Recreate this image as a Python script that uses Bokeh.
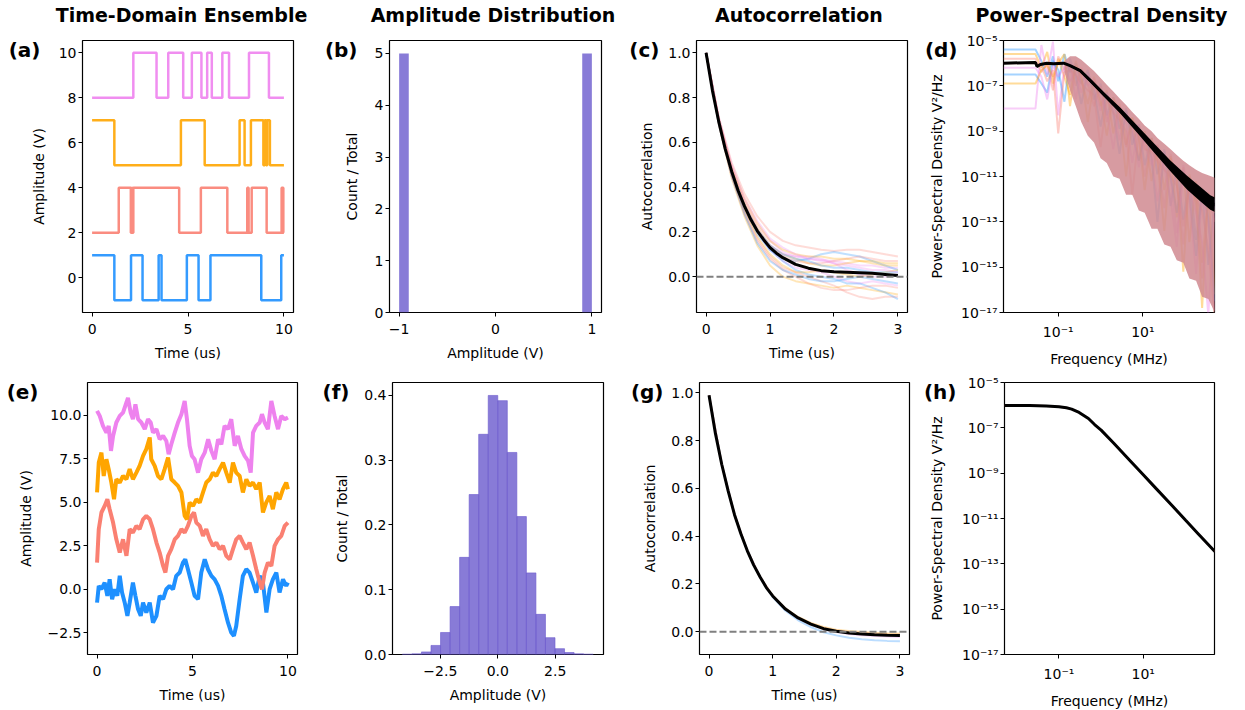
import numpy as np
from bokeh.plotting import figure
from bokeh.layouts import column, row
from bokeh.models import (Range1d, FixedTicker, CustomJSTickFormatter, Span, LinearAxis,
                          LinearScale)
from bokeh.embed import file_html
from bokeh.resources import INLINE

FONT = "DejaVu Sans"
BLUE = "#1E90FF"; SALMON = "#FA8072"; ORANGE = "#FFA500"; VIOLET = "#EE82EE"; SLATE = "#6A5ACD"

# ---------------- (a) telegraph ensemble: switch times ----------------
blue_sw = [1.16, 2.03, 2.63, 3.47, 3.62, 4.94, 5.55, 6.17, 8.82, 9.86]
salmon_sw = [1.39, 2.02, 2.07, 2.10, 2.15, 4.54, 5.67, 7.05, 8.09, 8.16, 8.32, 9.10, 9.88, 9.97]
orange_sw = [1.16, 4.63, 5.87, 7.69, 7.95, 8.28, 8.93, 9.00, 9.07, 9.13, 9.27]
violet_sw = [2.15, 3.36, 3.97, 4.75, 5.20, 5.70, 6.00, 6.24, 6.79, 7.14, 8.18, 9.22]
tele_levels = {"blue": (-1, 1, True), "salmon": (2, 4, False), "orange": (5, 7, True), "violet": (8, 10, False)}

# ---------------- (b) amplitude histogram ----------------
b_edges = [-1.0, -0.9, -0.8, -0.7, -0.6, -0.5, -0.4, -0.3, -0.2, -0.1, 0.0, 0.1, 0.2, 0.3, 0.4, 0.5, 0.6, 0.7, 0.8, 0.9, 1.0]
b_heights = [5, 0, 0, 0, 0, 0, 0, 0, 0, 0, 0, 0, 0, 0, 0, 0, 0, 0, 0, 5]

# ---------------- (c) autocorrelation, telegraph ----------------
t_grid = [0.0, 0.2, 0.4, 0.6, 0.8, 1.0, 1.2, 1.4, 1.6, 1.8, 2.0, 2.2, 2.4, 2.6, 2.8, 3.0]
c_lines = [
    [1.0, 0.71, 0.51, 0.37, 0.27, 0.20, 0.16, 0.14, 0.13, 0.12, 0.115, 0.12, 0.12, 0.11, 0.10, 0.09],
    [1.0, 0.68, 0.44, 0.27, 0.14, 0.05, 0.00, -0.02, -0.03, -0.04, -0.05, -0.04, -0.05, -0.06, -0.07, -0.08],
    [1.0, 0.70, 0.49, 0.34, 0.23, 0.16, 0.11, 0.09, 0.08, 0.075, 0.07, 0.06, 0.05, 0.05, 0.04, 0.04],
    [1.0, 0.69, 0.46, 0.30, 0.19, 0.12, 0.08, 0.07, 0.08, 0.10, 0.11, 0.10, 0.09, 0.07, 0.05, 0.03],
    [1.0, 0.68, 0.45, 0.29, 0.17, 0.09, 0.04, 0.02, 0.00, -0.02, -0.04, -0.07, -0.09, -0.10, -0.09, -0.09],
    [1.0, 0.70, 0.48, 0.33, 0.22, 0.14, 0.10, 0.08, 0.06, 0.05, 0.05, 0.06, 0.07, 0.07, 0.06, 0.06],
    [1.0, 0.69, 0.46, 0.31, 0.20, 0.12, 0.07, 0.04, 0.03, 0.02, 0.00, -0.02, -0.03, -0.02, -0.03, -0.04],
    [1.0, 0.69, 0.47, 0.31, 0.20, 0.12, 0.07, 0.03, 0.01, 0.00, -0.01, -0.03, -0.03, -0.05, -0.07, -0.10],
    [1.0, 0.70, 0.48, 0.32, 0.21, 0.13, 0.09, 0.07, 0.06, 0.06, 0.07, 0.08, 0.09, 0.08, 0.07, 0.07],
    [1.0, 0.69, 0.46, 0.30, 0.18, 0.10, 0.05, 0.02, 0.02, 0.03, 0.02, 0.01, 0.00, 0.01, 0.02, 0.03],
    [1.0, 0.70, 0.47, 0.32, 0.21, 0.14, 0.10, 0.09, 0.09, 0.08, 0.06, 0.03, 0.01, 0.00, 0.00, 0.01],
    [1.0, 0.69, 0.47, 0.32, 0.21, 0.14, 0.10, 0.08, 0.07, 0.05, 0.04, 0.04, 0.03, 0.02, 0.02, 0.02],
    [1.0, 0.69, 0.45, 0.28, 0.16, 0.08, 0.03, 0.00, -0.03, -0.05, -0.06, -0.06, -0.05, -0.04, -0.04, -0.05],
    [1.0, 0.70, 0.49, 0.35, 0.24, 0.16, 0.12, 0.10, 0.09, 0.09, 0.08, 0.08, 0.07, 0.06, 0.05, 0.05],
    [1.0, 0.71, 0.50, 0.35, 0.25, 0.17, 0.13, 0.10, 0.08, 0.07, 0.06, 0.05, 0.04, 0.03, 0.03, 0.02],
    [1.0, 0.68, 0.45, 0.28, 0.15, 0.07, 0.03, 0.01, -0.01, -0.02, -0.02, -0.01, 0.00, -0.01, -0.02, -0.03],
]
c_t_black = [0.0, 0.1, 0.2, 0.3, 0.4, 0.5, 0.6, 0.7, 0.8, 0.9, 1.0, 1.1, 1.2, 1.4, 1.6, 1.8, 2.0, 2.2, 2.4, 2.6, 2.8, 3.0]
c_black = [1.0, 0.83, 0.69, 0.57, 0.47, 0.385, 0.315, 0.255, 0.205, 0.165, 0.13, 0.105, 0.085, 0.055, 0.038, 0.027, 0.022, 0.02, 0.018, 0.015, 0.01, 0.005]

# ---------------- (d) PSD, telegraph (log10 of V^2/Hz) ----------------
f_ind = [0.0051, 0.029, 0.04, 0.055, 0.075, 0.1, 0.14, 0.19, 0.26, 0.35, 0.5, 0.7, 1.0, 1.4, 2.0, 2.8, 4.0, 5.6, 8.0, 11, 16, 22, 32, 45, 63, 90, 125, 180, 250, 350, 500]
d_lines_log = [
    [-5.4, -5.4, -5.9, -6.6, -5.7, -6.8, -5.6, -6.4, -6.0, -6.9, -6.3, -7.6, -6.9, -8.3, -7.5, -8.9, -8.0, -9.6, -8.7, -10.5, -9.3, -10.9, -9.8, -12.3, -10.6, -12.9, -11.0, -13.8, -11.6, -14.9, -12.0],
    [-5.6, -5.6, -6.2, -5.5, -6.9, -5.8, -6.6, -7.4, -5.9, -6.7, -7.8, -6.6, -7.9, -7.2, -9.1, -7.8, -9.6, -8.4, -10.3, -9.0, -11.2, -9.6, -11.6, -10.1, -12.8, -10.6, -13.9, -11.2, -14.8, -11.7, -16.2],
    [-8.0, -8.0, -5.2, -6.5, -5.05, -8.3, -6.1, -6.8, -6.4, -7.3, -6.5, -7.0, -8.1, -7.3, -8.0, -9.4, -8.2, -8.8, -10.6, -9.2, -10.0, -12.1, -10.0, -11.1, -13.5, -11.0, -12.0, -15.3, -11.8, -13.0, -16.9],
    [-5.8, -5.8, -6.4, -6.0, -7.2, -5.7, -6.3, -6.0, -7.0, -6.2, -6.9, -7.9, -7.0, -8.6, -7.6, -8.4, -9.7, -8.5, -9.2, -11.0, -9.3, -10.2, -12.4, -10.0, -11.3, -14.0, -11.0, -12.2, -15.5, -11.9, -13.0],
    [-6.5, -6.5, -6.9, -7.3, -5.9, -6.3, -7.7, -5.8, -6.6, -7.8, -6.4, -7.2, -8.8, -7.3, -8.2, -10.0, -8.1, -9.1, -10.3, -9.1, -10.2, -13.0, -9.9, -11.0, -12.6, -10.7, -11.8, -14.5, -11.6, -12.8, -16.5],
    [-6.9, -6.9, -6.3, -6.1, -6.6, -6.0, -5.6, -7.9, -6.1, -6.5, -8.6, -6.8, -7.6, -9.2, -7.5, -8.2, -11.0, -8.4, -9.3, -11.6, -9.3, -10.3, -13.4, -10.2, -11.0, -15.2, -10.9, -12.0, -16.8, -11.8, -12.6],
    [-6.2, -6.2, -6.6, -7.6, -6.1, -6.6, -6.2, -6.0, -7.6, -6.3, -7.0, -6.7, -7.5, -8.1, -9.8, -7.9, -8.6, -10.4, -8.7, -9.6, -10.5, -9.6, -10.6, -12.0, -14.1, -10.5, -11.6, -12.6, -13.9, -17.1, -12.2],
    [-6.0, -6.0, -6.1, -6.8, -6.3, -9.1, -6.4, -6.3, -6.5, -6.9, -7.2, -7.4, -9.7, -7.6, -8.2, -8.5, -9.0, -11.8, -9.0, -9.8, -9.9, -10.3, -10.7, -11.0, -11.4, -13.2, -11.5, -12.0, -12.5, -14.2, -17.3],
]
f_band = [0.14, 0.19, 0.26, 0.35, 0.5, 0.7, 1.0, 1.4, 2.0, 2.8, 4.0, 5.6, 8.0, 11, 16, 22, 32, 45, 63, 90, 125, 180, 250, 350, 500]
band_hi_log = [-5.9, -5.7, -5.7, -5.85, -6.1, -6.35, -6.65, -6.95, -7.25, -7.55, -7.85, -8.15, -8.45, -8.75, -9.0, -9.3, -9.55, -9.8, -10.05, -10.3, -10.5, -10.7, -10.85, -10.95, -11.05]
band_lo_log = [-6.4, -7.2, -7.9, -8.6, -9.2, -9.5, -10.2, -10.4, -11.0, -11.1, -11.8, -11.8, -12.5, -12.6, -13.3, -13.3, -14.0, -14.1, -14.7, -14.8, -15.5, -15.6, -16.3, -16.4, -17.0]
f_black = [0.0051, 0.029, 0.0316, 0.038, 0.054, 0.077, 0.134, 0.19, 0.33, 0.575, 1.17, 2.95, 7.3, 17.9, 44.5, 110, 229, 390, 520]
d_black_log = [-6.0, -5.97, -6.15, -6.06, -6.0, -6.03, -6.0, -6.11, -6.33, -6.77, -7.36, -8.10, -8.91, -9.72, -10.53, -11.27, -11.78, -12.15, -12.26]
d_black_hi_log = [-5.97, -5.94, -6.1, -6.02, -5.97, -5.99, -5.97, -6.07, -6.27, -6.69, -7.26, -7.97, -8.75, -9.52, -10.29, -10.97, -11.46, -11.83, -11.94]
d_black_lo_log = [-6.03, -6.0, -6.2, -6.1, -6.03, -6.07, -6.03, -6.15, -6.39, -6.85, -7.46, -8.23, -9.07, -9.92, -10.77, -11.57, -12.1, -12.47, -12.58]

# ---------------- (e) Gaussian (OU) ensemble ----------------
e_blue_t = [0.0, 0.09, 0.23, 0.4, 0.54, 0.66, 0.79, 0.92, 1.06, 1.19, 1.31, 1.45, 1.59, 1.71, 1.88, 2.01, 2.15, 2.29, 2.41, 2.58, 2.76, 2.93, 3.11, 3.28, 3.46, 3.63, 3.80, 3.98, 4.15, 4.33, 4.5, 4.62, 4.76, 4.94, 5.11, 5.29, 5.46, 5.64, 5.81, 5.99, 6.16, 6.34, 6.51, 6.68, 6.86, 7.03, 7.17, 7.29, 7.47, 7.64, 7.82, 7.99, 8.17, 8.34, 8.52, 8.69, 8.87, 9.04, 9.21, 9.39, 9.56, 9.74, 9.91, 10.0]
e_blue_v = [-0.77, 0.19, 0.0, 0.38, -0.38, 0.57, -0.57, 0.0, -0.38, 0.77, -0.19, -0.77, -1.53, -0.77, 0.38, -0.38, -1.15, -1.53, -0.77, -1.34, -0.77, -1.92, -1.53, -0.38, -0.57, 0.0, 0.19, 0.0, 0.77, 0.96, 1.53, 1.72, 1.15, 0.38, -0.38, -0.57, 0.96, 1.72, 1.15, 0.77, 0.57, 0.19, -0.38, -1.15, -1.92, -2.49, -2.68, -2.11, -0.57, 0.77, 1.15, 0.96, 0.38, -0.19, 0.77, 0.38, -1.34, 0.0, 0.57, 0.96, -0.19, 0.57, 0.19, 0.38]
e_salmon_t = [0.0, 0.09, 0.23, 0.4, 0.54, 0.66, 0.84, 1.01, 1.19, 1.36, 1.54, 1.71, 1.88, 2.06, 2.23, 2.41, 2.58, 2.76, 2.93, 3.11, 3.28, 3.46, 3.58, 3.72, 3.89, 4.07, 4.24, 4.42, 4.59, 4.76, 4.94, 5.08, 5.2, 5.38, 5.55, 5.72, 5.9, 6.07, 6.25, 6.42, 6.6, 6.77, 6.95, 7.12, 7.29, 7.47, 7.64, 7.82, 7.99, 8.17, 8.34, 8.52, 8.64, 8.78, 8.95, 9.13, 9.3, 9.48, 9.65, 9.83, 10.0]
e_salmon_v = [1.53, 3.45, 4.41, 4.79, 5.17, 4.6, 3.83, 2.87, 2.11, 2.87, 1.92, 3.45, 3.26, 3.64, 3.45, 4.02, 4.21, 4.02, 3.45, 2.68, 2.11, 1.34, 0.96, 1.92, 2.3, 2.87, 3.07, 3.45, 3.26, 3.64, 4.21, 4.41, 3.83, 3.64, 3.07, 3.45, 2.87, 2.49, 2.68, 2.3, 2.49, 1.92, 1.72, 2.3, 2.87, 3.07, 2.68, 2.3, 2.68, 1.92, 1.15, 0.38, 0.0, 0.96, 1.53, 1.34, 2.49, 2.87, 3.07, 3.64, 3.83]
e_orange_t = [0.0, 0.09, 0.23, 0.35, 0.49, 0.61, 0.75, 0.89, 1.01, 1.19, 1.36, 1.54, 1.71, 1.88, 2.06, 2.23, 2.41, 2.58, 2.76, 2.84, 3.02, 3.19, 3.37, 3.54, 3.72, 3.89, 4.07, 4.24, 4.42, 4.59, 4.71, 4.85, 5.03, 5.2, 5.38, 5.55, 5.72, 5.9, 6.07, 6.25, 6.42, 6.6, 6.77, 6.95, 7.12, 7.29, 7.47, 7.64, 7.82, 7.99, 8.17, 8.34, 8.52, 8.69, 8.86, 9.04, 9.21, 9.39, 9.56, 9.74, 9.91, 10.0]
e_orange_v = [5.56, 7.28, 7.85, 6.51, 7.47, 6.9, 6.13, 5.17, 6.32, 6.13, 6.51, 6.32, 6.9, 6.32, 6.7, 7.09, 7.66, 8.05, 8.72, 7.47, 7.09, 6.51, 6.32, 6.9, 7.57, 6.32, 6.13, 5.94, 5.56, 4.21, 4.02, 4.98, 4.79, 5.17, 4.98, 5.56, 6.13, 6.32, 6.7, 6.51, 6.9, 7.28, 6.7, 6.13, 7.28, 6.7, 6.51, 5.56, 6.32, 5.94, 6.13, 5.75, 6.13, 4.41, 4.98, 5.36, 4.6, 5.56, 5.17, 5.75, 6.13, 5.75]
e_violet_t = [0.0, 0.14, 0.31, 0.49, 0.61, 0.73, 0.84, 1.01, 1.19, 1.36, 1.54, 1.62, 1.76, 1.88, 2.01, 2.15, 2.32, 2.50, 2.67, 2.81, 2.93, 3.11, 3.28, 3.46, 3.63, 3.75, 3.89, 4.07, 4.24, 4.42, 4.59, 4.71, 4.85, 4.97, 5.11, 5.29, 5.46, 5.64, 5.82, 5.99, 6.16, 6.34, 6.51, 6.68, 6.86, 7.03, 7.21, 7.38, 7.56, 7.73, 7.91, 8.05, 8.17, 8.34, 8.52, 8.64, 8.78, 8.95, 9.13, 9.30, 9.48, 9.65, 9.83, 10.0]
e_violet_v = [10.25, 9.96, 9.39, 9.0, 9.39, 7.95, 8.81, 9.58, 9.96, 10.15, 10.73, 11.0, 10.15, 9.77, 10.63, 9.77, 9.58, 9.2, 9.77, 9.58, 9.0, 9.2, 8.62, 8.81, 8.52, 7.76, 8.33, 9.0, 9.58, 10.06, 10.82, 9.77, 8.24, 7.66, 7.47, 6.7, 7.47, 7.85, 8.62, 7.95, 7.47, 8.62, 8.33, 9.39, 9.2, 9.77, 8.24, 8.81, 8.05, 7.66, 7.38, 6.7, 9.0, 9.39, 9.58, 10.06, 9.58, 9.2, 10.82, 9.96, 9.2, 9.96, 9.77, 9.87]

# ---------------- (f) Gaussian amplitude histogram ----------------
f_edges = [-4.15, -3.735, -3.32, -2.905, -2.49, -2.075, -1.66, -1.245, -0.83, -0.415, 0.0, 0.415, 0.83, 1.245, 1.66, 2.075, 2.49, 2.905, 3.32, 3.735, 4.15]
f_heights = [0.0005, 0.001, 0.004, 0.014, 0.034, 0.074, 0.150, 0.247, 0.340, 0.400, 0.392, 0.312, 0.213, 0.126, 0.062, 0.026, 0.009, 0.003, 0.001, 0.0005]

# ---------------- (g) autocorrelation, Gaussian ----------------
g_lines = [
    [0.99, 0.70, 0.49, 0.34, 0.23, 0.145, 0.088, 0.048, 0.02, -0.002, -0.015, -0.025, -0.031, -0.035, -0.038, -0.04],
    [0.99, 0.70, 0.49, 0.34, 0.23, 0.15, 0.097, 0.06, 0.035, 0.017, 0.006, 0.0, -0.004, -0.007, -0.009, -0.01],
    [0.99, 0.70, 0.49, 0.34, 0.23, 0.152, 0.098, 0.062, 0.037, 0.02, 0.009, 0.003, -0.001, -0.004, -0.006, -0.007],
    [0.99, 0.70, 0.49, 0.34, 0.23, 0.15, 0.094, 0.056, 0.03, 0.011, -0.001, -0.009, -0.014, -0.018, -0.02, -0.022],
]
g_t_black = [0.0, 0.1, 0.2, 0.3, 0.4, 0.5, 0.6, 0.7, 0.8, 0.9, 1.0, 1.2, 1.4, 1.6, 1.8, 2.0, 2.2, 2.4, 2.6, 2.8, 3.0]
g_black = [0.99, 0.83, 0.70, 0.59, 0.49, 0.41, 0.34, 0.28, 0.23, 0.185, 0.15, 0.095, 0.058, 0.032, 0.013, 0.002, -0.005, -0.009, -0.012, -0.014, -0.015]

# ---------------- (h) PSD, Gaussian (log10 of V^2/Hz) ----------------
h_f = [0.0051, 0.01, 0.02, 0.05, 0.1, 0.15, 0.2, 0.3, 0.5, 0.7, 1.0, 2.0, 5.0, 10, 20, 50, 100, 200, 500]
h_log = [-6.02, -6.02, -6.02, -6.032, -6.066, -6.117, -6.176, -6.321, -6.59, -6.855, -7.10, -7.68, -8.47, -9.07, -9.67, -10.46, -11.07, -11.67, -12.46]

col_titles = ["Time-Domain Ensemble", "Amplitude Distribution", "Autocorrelation", "Power-Spectral Density"]
panel_tags = ["(a)", "(b)", "(c)", "(d)", "(e)", "(f)", "(g)", "(h)"]
psd_label = "Power-Spectral Density V\u00b2/Hz"

LOG_CODE = """
const e = Math.round(Math.log10(tick));
const m = {"-": "\u207b", "0": "\u2070", "1": "\u00b9", "2": "\u00b2", "3": "\u00b3", "4": "\u2074", "5": "\u2075", "6": "\u2076", "7": "\u2077", "8": "\u2078", "9": "\u2079"};
return "10" + String(e).split("").map(c => m[c]).join("");
"""

def lin_fmt(dec):
    return CustomJSTickFormatter(code="const s = Math.abs(tick).toFixed(%d); return (tick < -1e-9 ? '\u2212' : '') + s;" % dec)

FH = 272

def make_fig(xr, yr, fw, borders, xlabel, ylabel, xticks, yticks, xdec, ydec, ystand, log=False):
    left, right, top, bottom = borders
    p = figure(frame_width=fw, frame_height=FH, x_range=xr, y_range=yr,
               x_axis_type="log" if log else "linear", y_axis_type="log" if log else "linear",
               toolbar_location=None, output_backend="svg", title=None,
               min_border_left=left, min_border_right=right, min_border_top=top, min_border_bottom=bottom)
    p.grid.visible = False
    p.outline_line_color = "black"
    p.outline_line_width = 1.2
    p.outline_line_alpha = 1.0
    p.background_fill_color = "white"
    p.border_fill_color = "white"
    p.xaxis.ticker = FixedTicker(ticks=xticks, minor_ticks=[])
    p.yaxis.ticker = FixedTicker(ticks=yticks, minor_ticks=[])
    if log:
        p.xaxis.formatter = CustomJSTickFormatter(code=LOG_CODE)
        p.yaxis.formatter = CustomJSTickFormatter(code=LOG_CODE)
    else:
        p.xaxis.formatter = lin_fmt(xdec)
        p.yaxis.formatter = lin_fmt(ydec)
    for ax in (p.xaxis[0], p.yaxis[0]):
        ax.axis_line_color = None
        ax.major_tick_line_color = "black"
        ax.major_tick_line_width = 1
        ax.major_tick_out = 4
        ax.major_tick_in = 0
        ax.minor_tick_line_color = None
        ax.major_label_text_font = FONT
        ax.major_label_text_font_size = "14px"
        ax.major_label_text_color = "black"
        ax.axis_label_text_font = FONT
        ax.axis_label_text_font_size = "14px"
        ax.axis_label_text_font_style = "normal"
        ax.axis_label_text_color = "black"
    p.xaxis.axis_label = xlabel
    p.yaxis.axis_label = ylabel
    p.xaxis.major_label_standoff = 7
    p.xaxis.axis_label_standoff = 8
    p.yaxis.major_label_standoff = 2
    p.yaxis.axis_label_standoff = ystand
    p.extra_x_ranges = {"ttl": Range1d(0, 1)}
    p.extra_x_scales = {"ttl": LinearScale()}
    p.extra_y_ranges = {"tag": Range1d(0, 1)}
    p.extra_y_scales = {"tag": LinearScale()}
    return p

def bare_axis(ax, size, standoff):
    ax.axis_line_color = None
    ax.major_tick_line_color = None
    ax.minor_tick_line_color = None
    ax.major_tick_out = 0
    ax.major_tick_in = 0
    ax.minor_tick_out = 0
    ax.minor_tick_in = 0
    ax.major_label_text_font = FONT
    ax.major_label_text_font_size = size
    ax.major_label_text_font_style = "bold"
    ax.major_label_text_color = "black"
    ax.major_label_standoff = standoff

def add_tag(p, tag, standoff):
    ax = LinearAxis(y_range_name="tag", ticker=FixedTicker(ticks=[1 - 9.5 / FH], minor_ticks=[]),
                    formatter=CustomJSTickFormatter(code="return '%s';" % tag))
    bare_axis(ax, "20px", standoff)
    p.add_layout(ax, "left")

def add_col_title(p, txt, frac, standoff):
    ax = LinearAxis(x_range_name="ttl", ticker=FixedTicker(ticks=[frac], minor_ticks=[]),
                    formatter=CustomJSTickFormatter(code="return '%s';" % txt))
    bare_axis(ax, "19px", standoff)
    p.add_layout(ax, "above")

log_x_ticks = [0.1, 10]
log_y_ticks = [1e-17, 1e-15, 1e-13, 1e-11, 1e-9, 1e-7, 1e-5]
acf_y_ticks = [0.0, 0.2, 0.4, 0.6, 0.8, 1.0]

TOP_B = 56
BOT_T = 13

# ---------- top row ----------
pa = make_fig(Range1d(-0.5, 10.5), Range1d(-1.55, 10.55), 211, (82, 17, 38, TOP_B),
              "Time (us)", "Amplitude (V)", [0, 5, 10], [0, 2, 4, 6, 8, 10], 0, 0, 9)
for name, sw, col in (("blue", blue_sw, BLUE), ("salmon", salmon_sw, SALMON),
                      ("orange", orange_sw, ORANGE), ("violet", violet_sw, VIOLET)):
    lo, hi, start_hi = tele_levels[name]
    xs = [0.0] + list(sw) + [10.0]
    state = start_hi
    ys = []
    for _ in range(len(sw) + 1):
        ys.append(hi if state else lo)
        state = not state
    ys.append(ys[-1])
    pa.step(xs, ys, mode="after", line_color=col, line_width=2.5, line_alpha=0.9)

pb = make_fig(Range1d(-1.1, 1.1), Range1d(0, 5.25), 212, (79, 19, 38, TOP_B),
              "Amplitude (V)", "Count / Total", [-1, 0, 1], [0, 1, 2, 3, 4, 5], 0, 0, 12)
pb.quad(left=b_edges[:-1], right=b_edges[1:], top=b_heights, bottom=0,
        fill_color=SLATE, fill_alpha=0.8, line_color=None)

pc = make_fig(Range1d(-0.15, 3.15), Range1d(-0.16, 1.055), 211, (76, 6, 38, TOP_B),
              "Time (us)", "Autocorrelation", [0, 1, 2, 3], acf_y_ticks, 0, 1, 10)
cyc = [SALMON, ORANGE, VIOLET, BLUE]
for i, ln in enumerate(c_lines):
    pc.line(t_grid, ln, line_color=cyc[i % 4], line_width=2, line_alpha=0.28)
pc.add_layout(Span(location=0, dimension="width", line_color="gray", line_dash="7 3", line_width=2))
pc.line(c_t_black, c_black, line_color="black", line_width=3)

pd_ = make_fig(Range1d(0.0051, 490), Range1d(1e-17, 1e-5), 211, (90, 31, 38, TOP_B),
               "Frequency (MHz)", psd_label, log_x_ticks, log_y_ticks, 0, 0, 13, log=True)
dcyc = [BLUE, ORANGE, VIOLET, SALMON, BLUE, ORANGE, VIOLET, SALMON]
for i, ln in enumerate(d_lines_log):
    pd_.line(f_ind, [10 ** v for v in ln], line_color=dcyc[i], line_width=2, line_alpha=0.4)
pd_.varea(x=f_band, y1=[10 ** v for v in band_lo_log], y2=[10 ** v for v in band_hi_log],
          fill_color="#D08A91", fill_alpha=0.85)
pd_.varea(x=f_black, y1=[10 ** v for v in d_black_lo_log], y2=[10 ** v for v in d_black_hi_log],
          fill_color="black")
pd_.line(f_black, [10 ** v for v in d_black_log], line_color="black", line_width=3)

# ---------- bottom row ----------
pe = make_fig(Range1d(-0.5, 10.5), Range1d(-3.75, 11.88), 210, (87, 13, BOT_T, 59),
              "Time (us)", "Amplitude (V)", [0, 5, 10], [-2.5, 0, 2.5, 5, 7.5, 10], 0, 1, 11)
for tt, vv, col in ((e_blue_t, e_blue_v, BLUE), (e_salmon_t, e_salmon_v, SALMON),
                    (e_orange_t, e_orange_v, ORANGE), (e_violet_t, e_violet_v, VIOLET)):
    pe.line(tt, vv, line_color=col, line_width=4)

pf = make_fig(Range1d(-4.58, 4.6), Range1d(0, 0.42), 211, (82, 17, BOT_T, 59),
              "Amplitude (V)", "Count / Total", [-2.5, 0, 2.5], [0, 0.1, 0.2, 0.3, 0.4], 1, 1, 11)
pf.quad(left=f_edges[:-1], right=f_edges[1:], top=f_heights, bottom=0,
        fill_color=SLATE, fill_alpha=0.8, line_color=SLATE, line_alpha=0.6, line_width=1)

pg = make_fig(Range1d(-0.15, 3.15), Range1d(-0.095, 1.043), 210, (79, 4, BOT_T, 59),
              "Time (us)", "Autocorrelation", [0, 1, 2, 3], acf_y_ticks, 0, 1, 10)
for i, ln in enumerate(g_lines):
    pg.line(t_grid, ln, line_color=[BLUE, SALMON, ORANGE, VIOLET][i], line_width=2, line_alpha=0.3)
pg.add_layout(Span(location=0, dimension="width", line_color="gray", line_dash="7 3", line_width=2))
pg.line(g_t_black, g_black, line_color="black", line_width=3)

ph = make_fig(Range1d(0.0051, 490), Range1d(1e-17, 1e-5), 210, (91, 31, BOT_T, 59),
              "Frequency (MHz)", psd_label, log_x_ticks, log_y_ticks, 0, 0, 14, log=True)
ph.line(h_f, [10 ** v for v in h_log], line_color=SALMON, line_width=2, line_alpha=0.5)
ph.line(h_f, [10 ** v for v in h_log], line_color="black", line_width=3)

# ---------- panel tags and column titles ----------
tops = [pa, pb, pc, pd_]
bots = [pe, pf, pg, ph]
tag_standoff_top = [-13, -17, -23, -31]
tag_standoff_bot = [-24, -18, -24, -30]
title_frac = [99 / 211, 103.5 / 212, 102.5 / 211, 98 / 211]
for i, p in enumerate(tops):
    add_tag(p, panel_tags[i], tag_standoff_top[i])
    add_col_title(p, col_titles[i], title_frac[i], 15)
for i, p in enumerate(bots):
    add_tag(p, panel_tags[4 + i], tag_standoff_bot[i])

layout = column(row(*tops), row(*bots))
open("out.html", "w").write(file_html(layout, INLINE))
